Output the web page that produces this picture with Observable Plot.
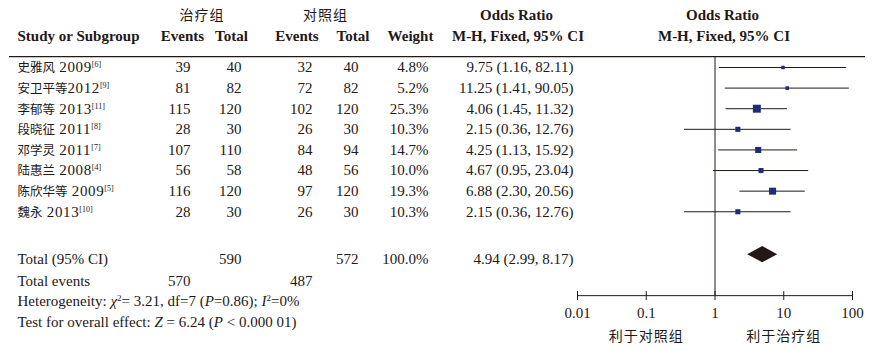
<!DOCTYPE html>
<html><head><meta charset="utf-8">
<script src="https://cdn.jsdelivr.net/npm/d3@7"></script>
<script src="https://cdn.jsdelivr.net/npm/@observablehq/plot@0.6"></script>
<style>body{margin:0;background:#fff}</style>
</head><body><div id="chart"></div>
<script>
// ---------- data ----------
const studies = ["史雅风 2009[6]", "安卫平等2012[9]", "李郁等 2013[11]", "段晓征 2011[8]", "邓学灵 2011[7]", "陆惠兰 2008[4]", "陈欣华等 2009[5]", "魏永 2013[10]"];
const trtEvents = [39, 81, 115, 28, 107, 56, 116, 28];
const trtTotal  = [40, 82, 120, 30, 110, 58, 120, 30];
const ctlEvents = [32, 72, 102, 26, 84, 48, 97, 26];
const ctlTotal  = [40, 82, 120, 30, 94, 56, 120, 30];
const weights   = [4.8, 5.2, 25.3, 10.3, 14.7, 10.0, 19.3, 10.3];
const oddsRatio = [9.75, 11.25, 4.06, 2.15, 4.25, 4.67, 6.88, 2.15];
const ciLow     = [1.16, 1.41, 1.45, 0.36, 1.13, 0.95, 2.30, 0.36];
const ciHigh    = [82.11, 90.05, 11.32, 12.76, 15.92, 23.04, 20.56, 12.76];

const totalTrtTotal = 590, totalCtlTotal = 572, totalWeight = 100.0;
const totalTrtEvents = 570, totalCtlEvents = 487;
const pooledOR = 4.94, pooledLow = 2.99, pooledHigh = 8.17;

const groupNames = ["治疗组", "对照组"];
const axisTicks = [0.01, 0.1, 1, 10, 100];
const axisTickLabels = ["0.01", "0.1", "1", "10", "100"];
const favourLabels = ["利于对照组", "利于治疗组"];
const favourAt = [0.1, 10];
const heterogeneityText = "Heterogeneity: <i>χ</i><sup>2</sup>= 3.21, df=7 (<i>P</i>=0.86); <i>I</i><sup>2</sup>=0%";
const overallText = "Test for overall effect: <i>Z</i> = 6.24 (<i>P</i> < 0.000 01)";

// ---------- layout ----------
const W = 874, H = 351, L = 9, R = 9;
const serif = "'Liberation Serif','Times New Roman',serif";
const cjk = "'Noto Sans CJK SC','Liberation Serif',sans-serif";
const ROW = {head1: -2.52, head2: -1.5, rule: -0.53, total: 9.32, events: 10.39, het: 11.36, test: 12.38,
             axis: 11.07, tickTop: 10.87, tickBot: 11.31, tickLab: 11.94, favour: 13.06, diamond: 9.08};

const rows = studies.map((s, i) => ({
  i, name: s, te: trtEvents[i], tt: trtTotal[i], ce: ctlEvents[i], ct: ctlTotal[i],
  w: weights[i], wTxt: weights[i].toFixed(1) + "%", or: oddsRatio[i], lo: ciLow[i], hi: ciHigh[i],
  orTxt: `${oddsRatio[i].toFixed(2)} (${ciLow[i].toFixed(2)}, ${ciHigh[i].toFixed(2)})`
}));

const ink = "#231815";
const colRight = {te: 190, tt: 241, ce: 312, ct: 358, w: 428, or: 573};
const col = (data, key, right, extra = {}) =>
  Plot.text(data, {y: "i", text: key, frameAnchor: "left", dx: right - L, textAnchor: "end",
                   fontSize: 15, fontFamily: serif, fill: ink, ...extra});

const headers = [
  {t: groupNames[0], cx: 201.5, row: ROW.head1, cjk: true},
  {t: groupNames[1], cx: 325, row: ROW.head1, cjk: true},
  {t: "Odds Ratio", cx: 516, row: ROW.head1},
  {t: "Odds Ratio", cx: 722, row: ROW.head1},
  {t: "Events", cx: 182, row: ROW.head2},
  {t: "Total", cx: 231, row: ROW.head2},
  {t: "Events", cx: 296.5, row: ROW.head2},
  {t: "Total", cx: 352.5, row: ROW.head2},
  {t: "Weight", cx: 410, row: ROW.head2},
  {t: "M-H, Fixed, 95% CI", cx: 517.5, row: ROW.head2},
  {t: "M-H, Fixed, 95% CI", cx: 723.5, row: ROW.head2}
];
const headerMarks = headers.map(h => Plot.text([h], {
  y: "row", text: "t", frameAnchor: "left", dx: h.cx - L, textAnchor: "middle",
  fontSize: h.cjk ? 14 : 15, fontWeight: h.cjk ? "normal" : "bold",
  fontFamily: h.cjk ? cjk : serif, fill: ink
}));
const subgroupHeader = Plot.text([{t: "Study or Subgroup", row: ROW.head2}], {
  y: "row", text: "t", frameAnchor: "left", dx: 17 - L, textAnchor: "start",
  fontSize: 15, fontWeight: "bold", fontFamily: serif, fill: ink});

const totalsRow = [{i: ROW.total, name: "Total (95% CI)", tt: totalTrtTotal, ct: totalCtlTotal,
  wTxt: totalWeight.toFixed(1) + "%", orTxt: `${pooledOR.toFixed(2)} (${pooledLow.toFixed(2)}, ${pooledHigh.toFixed(2)})`}];
const eventsRow = [{i: ROW.events, name: "Total events", te: totalTrtEvents, ce: totalCtlEvents}];

const diamond = [
  {x: pooledLow, y1: ROW.diamond, y2: ROW.diamond},
  {x: pooledOR, y1: ROW.diamond - 0.4, y2: ROW.diamond + 0.4},
  {x: pooledHigh, y1: ROW.diamond, y2: ROW.diamond}
];

const leftText = (data, extra = {}) => Plot.text(data, {y: "i", text: "name", frameAnchor: "left", dx: 17 - L,
  textAnchor: "start", fontSize: 15, fontFamily: serif, fill: ink, ...extra});

const plot = Plot.plot({
  width: W, height: H, marginLeft: L, marginRight: R, marginTop: 0, marginBottom: 0,
  style: {fontFamily: serif, fontSize: "15px", background: "#fff", color: ink},
  x: {type: "log", domain: [0.01, 100], range: [577, 852], axis: null},
  y: {domain: [-3.25, 13.78], range: [0, H], axis: null},
  r: {domain: [0, 25.3], range: [0, 4.5]},
  marks: [
    ...headerMarks,
    subgroupHeader,
    Plot.ruleY([ROW.rule], {stroke: ink, strokeWidth: 1.2}),
    // study rows
    leftText(rows),
    col(rows, "te", colRight.te), col(rows, "tt", colRight.tt),
    col(rows, "ce", colRight.ce), col(rows, "ct", colRight.ct),
    col(rows, "wTxt", colRight.w), col(rows, "orTxt", colRight.or),
    // totals
    leftText(totalsRow),
    col(totalsRow, "tt", colRight.tt), col(totalsRow, "ct", colRight.ct),
    col(totalsRow, "wTxt", colRight.w), col(totalsRow, "orTxt", colRight.or),
    leftText(eventsRow),
    col(eventsRow, "te", colRight.te), col(eventsRow, "ce", colRight.ce),
    leftText([{i: ROW.het, name: heterogeneityText}, {i: ROW.test, name: overallText}]),
    // forest plot
    Plot.ruleX([1], {y1: ROW.rule, y2: ROW.axis, stroke: ink, strokeWidth: 1}),
    Plot.ruleY(rows, {y: "i", x1: "lo", x2: "hi", stroke: ink, strokeWidth: 1}),
    Plot.dot(rows, {x: "or", y: "i", r: "w", symbol: "square", fill: "#1f2a78", stroke: null}),
    Plot.areaY(diamond, {x: "x", y1: "y1", y2: "y2", fill: ink, curve: "linear"}),
    // axis
    Plot.ruleY([ROW.axis], {x1: axisTicks[0], x2: axisTicks[axisTicks.length - 1], stroke: ink, strokeWidth: 1}),
    Plot.ruleX(axisTicks, {y1: ROW.tickTop, y2: ROW.tickBot, stroke: ink, strokeWidth: 1}),
    Plot.text(axisTicks, {x: d => d, y: ROW.tickLab, text: (d, i) => axisTickLabels[i], fontSize: 15, fontFamily: serif, fill: ink}),
    Plot.text(favourLabels, {x: (d, i) => favourAt[i], y: ROW.favour, text: d => d, fontSize: 14, fontFamily: cjk, fill: ink})
  ]
});

// ---------- rich text post-processing (superscripts, italics, CJK sizing) ----------
const NS = "http://www.w3.org/2000/svg";
function addSpan(el, txt, attrs = {}) {
  const t = document.createElementNS(NS, "tspan");
  t.textContent = txt;
  for (const [k, v] of Object.entries(attrs)) t.setAttribute(k, v);
  el.appendChild(t);
}
plot.querySelectorAll("text").forEach(el => {
  const s = el.textContent;
  const m = s.match(/^([^\d\s]+)(\s?)(\d{4})\[(\d+)\]$/);
  if (m) {
    el.textContent = "";
    addSpan(el, m[1], {"font-family": cjk, "font-size": "12.5px"});
    addSpan(el, m[2] + m[3], {"letter-spacing": "0.6px"});
    addSpan(el, "[" + m[4] + "]", {"font-size": "8px", dy: "-5"});
    return;
  }
  if (/<(i|sup)>/.test(s)) {
    el.textContent = "";
    const re = /<(i|sup)>(.*?)<\/\1>/g;
    let last = 0, mm, pending = 0;
    const push = (txt, attrs = {}) => {
      if (pending) { attrs.dy = String(pending); pending = 0; }
      addSpan(el, txt, attrs);
    };
    while ((mm = re.exec(s))) {
      if (mm.index > last) push(s.slice(last, mm.index));
      if (mm[1] === "i") push(mm[2], {"font-style": "italic"});
      else { push(mm[2], {"font-size": "9px", dy: "-5"}); pending = 5; }
      last = re.lastIndex;
    }
    if (last < s.length) push(s.slice(last));
    return;
  }
  if (/^[\u4e00-\u9fff]+$/.test(s)) el.setAttribute("letter-spacing", "1px");
});

document.getElementById("chart").appendChild(plot);
</script>
</body></html>
